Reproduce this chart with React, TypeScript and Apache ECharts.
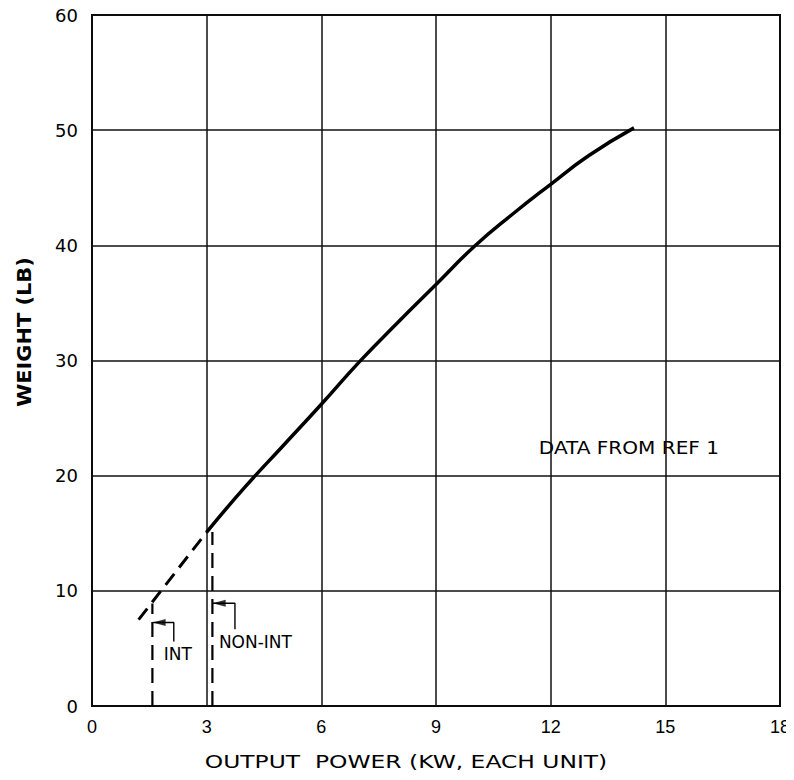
import React, { useEffect, useRef } from "react";
import * as echarts from "echarts";

const xTicks = [0, 3, 6, 9, 12, 15, 18];
const yTicks = [0, 10, 20, 30, 40, 50, 60];

// Solid curve: weight (lb) vs output power (kW)
const solidX = [3, 4, 5, 6, 7, 8, 9, 10, 11, 12, 13, 14.18];
const solidY = [15.1, 19.0, 22.6, 26.2, 29.9, 33.3, 36.6, 39.9, 42.7, 45.3, 47.8, 50.2];

// Dashed extrapolation
const dashX = [1.22, 3];
const dashY = [7.5, 15.1];

// Vertical dashed markers
const intX = 1.58;
const intTop = 8.9;
const nonIntX = 3.15;
const nonIntTop = 15.1;

// Leaders (arrows)
const intLeaderX = [2.14, 2.14, 1.6];
const intLeaderY = [5.6, 7.25, 7.25];
const nonIntLeaderX = [3.74, 3.74, 3.17];
const nonIntLeaderY = [6.67, 8.92, 8.92];

// Annotations (data coordinates of the left/middle anchor)
const notes = [
  { x: 1.88, y: 4.5, text: "INT", size: 17, stretch: 1 },
  { x: 3.32, y: 5.58, text: "NON-INT", size: 17, stretch: 1 },
  { x: 11.69, y: 22.4, text: "DATA FROM REF 1", size: 17, stretch: 1.18 },
];

const xTitle = "OUTPUT  POWER (KW, EACH UNIT)";
const yTitle = "WEIGHT (LB)";

const zip = (a: number[], b: number[]) => a.map((v, i) => [v, b[i]]);

export default function App() {
  const ref = useRef<HTMLDivElement>(null);
  useEffect(() => {
    if (!ref.current) return;
    const chart = echarts.init(ref.current, null, { renderer: "svg" });
    const arrow = "path://M0,5 L12,0 L12,10 Z";
    const titles = [
      {
        type: "text",
        x: 406,
        y: 762,
        scaleX: 1.3,
        style: {
          text: xTitle,
          fill: "#000",
          fontFamily: "DejaVu Sans",
          fontSize: 18,
          align: "center",
          verticalAlign: "middle",
        },
      },
      {
        type: "text",
        x: 24,
        y: 332,
        rotation: Math.PI / 2,
        scaleX: 1.1,
        style: {
          text: yTitle,
          fill: "#000",
          fontFamily: "DejaVu Sans",
          fontSize: 19,
          fontWeight: "bold",
          align: "center",
          verticalAlign: "middle",
        },
      },
    ];
    chart.setOption({
      animation: false,
      backgroundColor: "#fff",
      grid: {
        left: 92,
        right: 14,
        top: 15,
        bottom: 74,
        show: true,
        borderColor: "#000",
        borderWidth: 2,
        backgroundColor: "transparent",
      },
      graphic: titles,
      xAxis: {
        type: "value",
        min: 0,
        max: 18,
        interval: 3,
        axisLine: { show: false },
        axisTick: { show: false },
        splitLine: { show: true, lineStyle: { color: "#111", width: 1.5 } },
        axisLabel: {
          margin: 12,
          color: "#000",
          fontFamily: "Liberation Sans",
          fontSize: 18,
          formatter: (v: number) => (xTicks.includes(v) ? String(v) : ""),
        },
      },
      yAxis: {
        type: "value",
        min: 0,
        max: 60,
        interval: 10,
        axisLine: { show: false },
        axisTick: { show: false },
        splitLine: { show: true, lineStyle: { color: "#111", width: 1.5 } },
        axisLabel: {
          margin: 14,
          color: "#000",
          fontFamily: "DejaVu Sans",
          fontSize: 18,
          formatter: (v: number) => (yTicks.includes(v) ? String(v) : ""),
        },
      },
      series: [
        {
          type: "line",
          data: zip(solidX, solidY),
          smooth: true,
          symbol: "none",
          lineStyle: { color: "#000", width: 3.5 },
        },
        {
          type: "line",
          data: zip(dashX, dashY),
          symbol: "none",
          lineStyle: { color: "#000", width: 3, type: [14, 8] },
        },
        {
          type: "line",
          data: [[intX, 0], [intX, intTop]],
          symbol: "none",
          lineStyle: { color: "#000", width: 2.2, type: [15, 8] },
        },
        {
          type: "line",
          data: [[nonIntX, 0], [nonIntX, nonIntTop]],
          symbol: "none",
          lineStyle: { color: "#000", width: 2.2, type: [15, 8] },
        },
        {
          type: "line",
          data: zip(intLeaderX, intLeaderY),
          symbol: "none",
          lineStyle: { color: "#000", width: 1.4 },
        },
        {
          type: "line",
          data: zip(nonIntLeaderX, nonIntLeaderY),
          symbol: "none",
          lineStyle: { color: "#000", width: 1.4 },
        },
        {
          type: "scatter",
          data: [
            [intLeaderX[2], intLeaderY[2]],
            [nonIntLeaderX[2], nonIntLeaderY[2]],
          ],
          symbol: arrow,
          symbolSize: [13, 7],
          symbolOffset: [6, 0],
          itemStyle: { color: "#000" },
        },
      ],
    });
    const noteGraphics = notes.map((n) => {
      const [px, py] = chart.convertToPixel({ gridIndex: 0 }, [n.x, n.y]) as number[];
      return {
        type: "text",
        x: px,
        y: py,
        scaleX: n.stretch,
        style: {
          text: n.text,
          fill: "#000",
          fontFamily: "DejaVu Sans",
          fontSize: n.size,
          align: "left",
          verticalAlign: "middle",
        },
      };
    });
    chart.setOption({ graphic: [...titles, ...noteGraphics] });
    return () => chart.dispose();
  }, []);
  return <div ref={ref} style={{ width: 794, height: 780, margin: -8 }} />;
}
